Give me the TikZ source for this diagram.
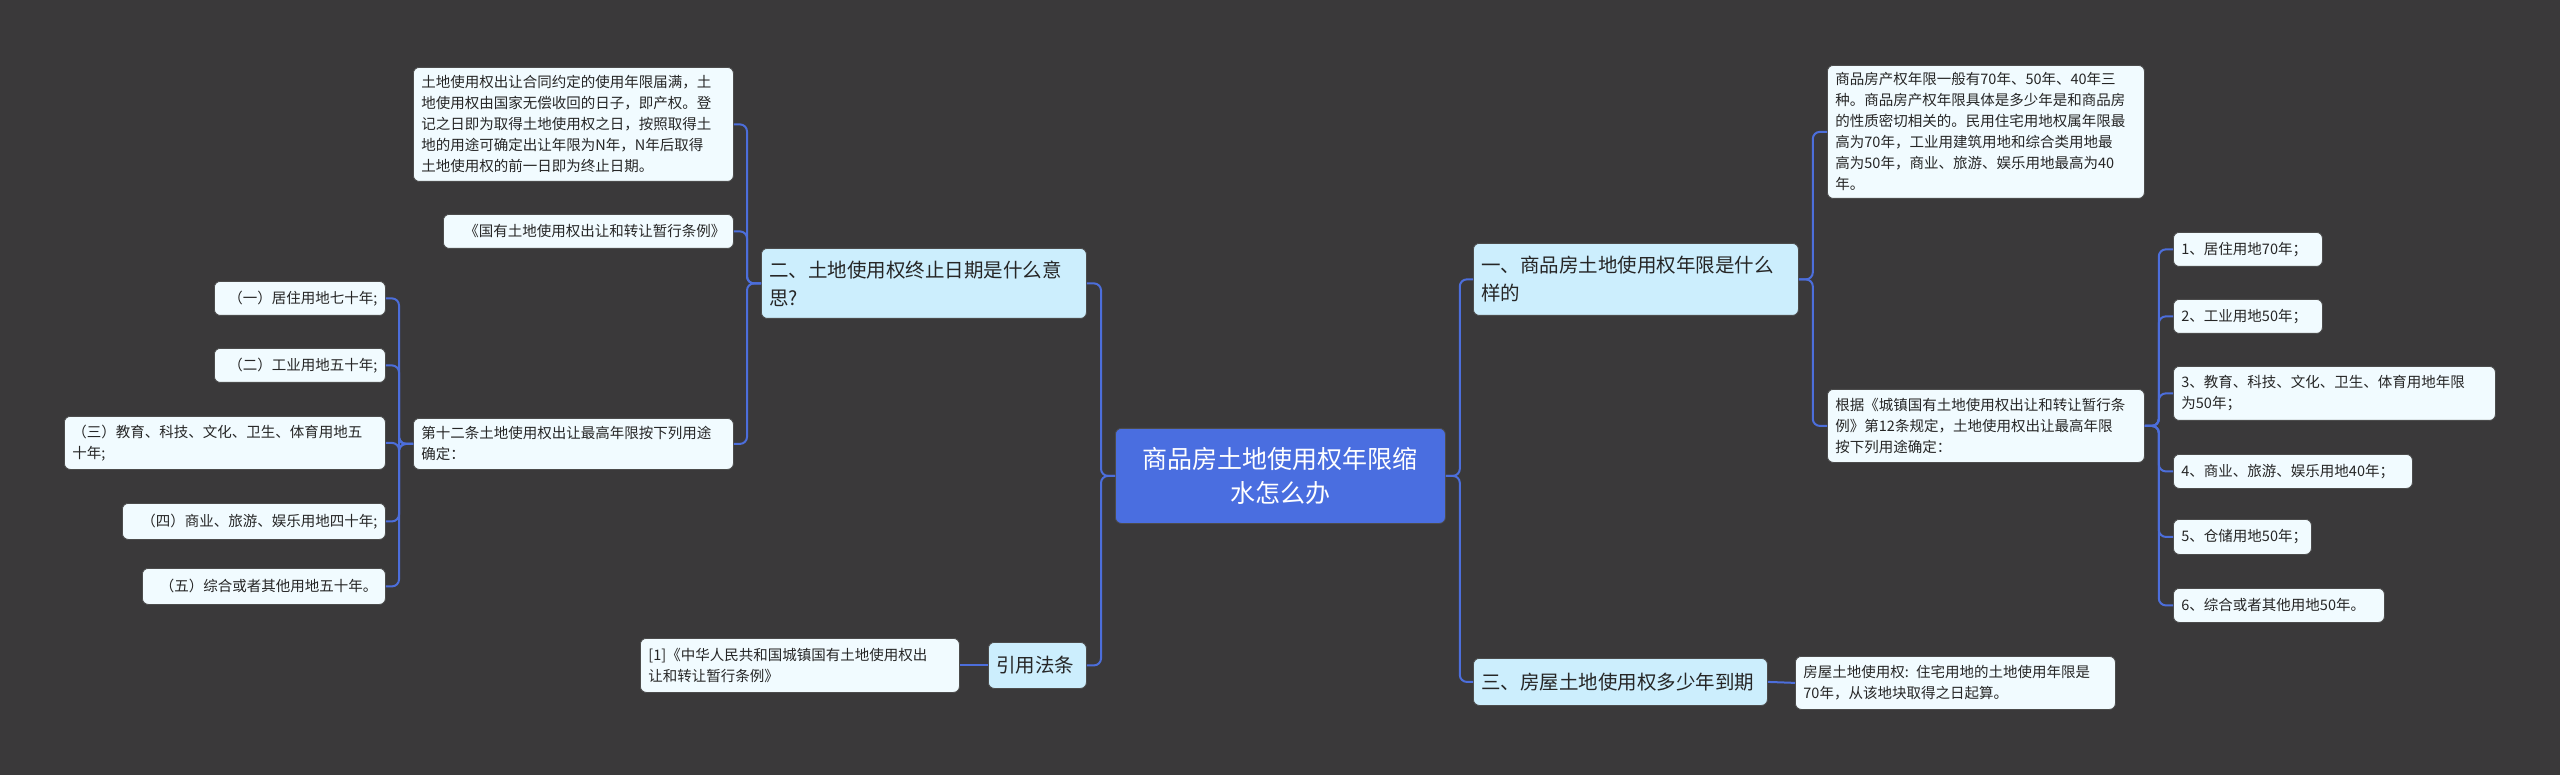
\documentclass[tikz,border=0pt]{standalone}
\usepackage{fontspec}
\setmainfont{Noto Sans CJK SC}
\definecolor{bg}{HTML}{3A393A}
\definecolor{ln}{HTML}{4C6EDB}
\definecolor{cen}{HTML}{4A6EE0}
\definecolor{lv1}{HTML}{CCEEFD}
\definecolor{leaf}{HTML}{F1FBFF}
\tikzset{
 base/.style={draw=black!70,line width=0.8pt,rounded corners=6pt,inner ysep=4pt,text=black!85},
 leafbox/.style={base,fill=leaf,font=\fontsize{14.5}{21}\selectfont,align=left},
 leafr/.style={leafbox,align=right},
 lvbox/.style={base,fill=lv1,font=\fontsize{19.5}{28}\selectfont,align=left},
 cenbox/.style={base,fill=cen,text=white,font=\fontsize{25}{34}\selectfont,align=center},
 con/.style={draw=ln,line width=2pt,rounded corners=7pt}
}
\newcommand\bx[7]{\pgfmathsetmacro\tw{#4-#2-16}\pgfmathsetmacro\hh{#5-#3}%
 \node[#6,anchor=north west,text width=\tw pt,minimum height=\hh pt,inner xsep=8pt] (#1) at (#2pt,-#3pt) {#7};}
\begin{document}
\begin{tikzpicture}[x=1pt,y=1pt]
\fill[bg] (0,0) rectangle (2560,-775);
\useasboundingbox (0,0) rectangle (2560,-775);
\bx{c}{1115}{428}{1445}{523}{cenbox}{商品房土地使用权年限缩\\水怎么办}
% right
\bx{a1}{1473}{243}{1798}{315}{lvbox}{一、商品房土地使用权年限是什么\\样的}
\bx{a3}{1473}{658}{1767}{705}{lvbox}{三、房屋土地使用权多少年到期}
\bx{r1}{1827}{65}{2144}{198}{leafbox}{商品房产权年限一般有70年、50年、40年三\\种。商品房产权年限具体是多少年是和商品房\\的性质密切相关的。民用住宅用地权属年限最\\高为70年，工业用建筑用地和综合类用地最\\高为50年，商业、旅游、娱乐用地最高为40\\年。}
\bx{r2}{1827}{389}{2144}{462}{leafbox}{根据《城镇国有土地使用权出让和转让暂行条\\例》第12条规定，土地使用权出让最高年限\\按下列用途确定：}
\bx{n1}{2173}{232}{2322}{266}{leafbox}{1、居住用地70年；}
\bx{n2}{2173}{299}{2322}{333}{leafbox}{2、工业用地50年；}
\bx{n3}{2173}{366}{2495}{420}{leafbox}{3、教育、科技、文化、卫生、体育用地年限\\为50年；}
\bx{n4}{2173}{454}{2412}{488}{leafbox}{4、商业、旅游、娱乐用地40年；}
\bx{n5}{2173}{519}{2311}{554}{leafbox}{5、仓储用地50年；}
\bx{n6}{2173}{588}{2384}{622}{leafbox}{6、综合或者其他用地50年。}
\bx{a3c}{1795}{656}{2115}{709}{leafbox}{房屋土地使用权: 住宅用地的土地使用年限是\\70年，从该地块取得之日起算。}
% left
\bx{b2}{761}{248}{1086}{318}{lvbox}{二、土地使用权终止日期是什么意\\思?}
\bx{bq}{988}{642}{1086}{688}{lvbox}{引用法条}
\bx{b1}{413}{67}{733}{181}{leafbox}{土地使用权出让合同约定的使用年限届满，土\\地使用权由国家无偿收回的日子，即产权。登\\记之日即为取得土地使用权之日，按照取得土\\地的用途可确定出让年限为N年，N年后取得\\土地使用权的前一日即为终止日期。}
\bx{bref}{443}{214}{733}{248}{leafr}{《国有土地使用权出让和转让暂行条例》}
\bx{b12}{413}{418}{733}{469}{leafbox}{第十二条土地使用权出让最高年限按下列用途\\确定：}
\bx{l1}{214}{281}{385}{315}{leafr}{（一）居住用地七十年;}
\bx{l2}{214}{348}{385}{382}{leafr}{（二）工业用地五十年;}
\bx{l3}{64}{416}{385}{469}{leafbox}{（三）教育、科技、文化、卫生、体育用地五\\十年;}
\bx{l4}{122}{503}{385}{539}{leafr}{（四）商业、旅游、娱乐用地四十年;}
\bx{l5}{142}{568}{385}{604}{leafr}{（五）综合或者其他用地五十年。}
\bx{q1}{640}{638}{959}{692}{leafbox}{[1]《中华人民共和国城镇国有土地使用权出\\让和转让暂行条例》}
% connectors
\begin{scope}[on background layer/.style={}]
\foreach \t in {a1,a3} \draw[con] (c.east) -- ++(14,0) |- (\t.west);
\foreach \t in {r1,r2} \draw[con] (a1.east) -- ++(14,0) |- (\t.west);
\foreach \t in {n1,n2,n3,n4,n5,n6} \draw[con] (r2.east) -- ++(14,0) |- (\t.west);
\draw[con] (a3.east) -- (a3c.west);
\foreach \t in {b2,bq} \draw[con] (c.west) -- ++(-14,0) |- (\t.east);
\foreach \t in {b1,bref,b12} \draw[con] (b2.west) -- ++(-14,0) |- (\t.east);
\foreach \t in {l1,l2,l3,l4,l5} \draw[con] (b12.west) -- ++(-14,0) |- (\t.east);
\draw[con] (bq.west) -- (q1.east);
\end{scope}
\end{tikzpicture}
\end{document}
